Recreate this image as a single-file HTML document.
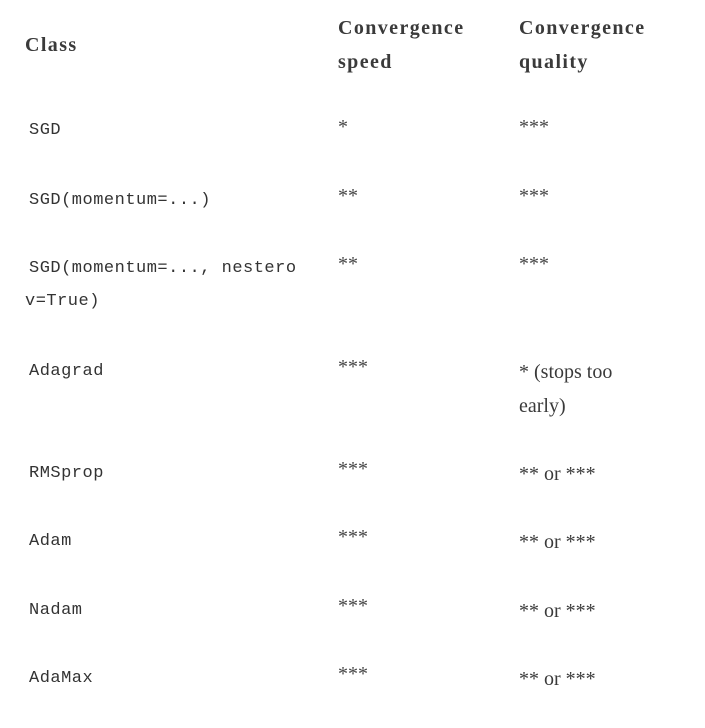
<!DOCTYPE html>
<html><head><meta charset="utf-8"><style>
html,body{margin:0;padding:0;background:#fff;width:705px;height:728px;overflow:hidden;color:#3a3a3a}
.a{position:absolute;white-space:nowrap;line-height:34px}
.h{font-family:"Liberation Serif",serif;font-weight:bold;font-size:20px;letter-spacing:1.4px}
.m{font-family:"Liberation Mono",monospace;font-size:17px;letter-spacing:0.5px;color:#333}
.s{font-family:"Liberation Serif",serif;font-size:20px}
.st{font-family:"Liberation Serif",serif;font-size:20px;color:#444}
</style></head><body>
<div class="a h" style="left:25px;top:28px">Class</div>
<div class="a h" style="left:338px;top:11px">Convergence<br>speed</div>
<div class="a h" style="left:519px;top:11px">Convergence<br>quality</div>

<div class="a m" style="left:29px;top:114px">SGD</div>
<div class="a st" style="left:338px;top:110px">*</div>
<div class="a st" style="left:519px;top:110px">***</div>

<div class="a m" style="left:29px;top:184px">SGD(momentum=...)</div>
<div class="a st" style="left:338px;top:179px">**</div>
<div class="a st" style="left:519px;top:179px">***</div>

<div class="a m" style="left:29px;top:252px">SGD(momentum=..., nestero</div>
<div class="a m" style="left:25px;top:285px">v=True)</div>
<div class="a st" style="left:338px;top:247px">**</div>
<div class="a st" style="left:519px;top:247px">***</div>

<div class="a m" style="left:29px;top:355px">Adagrad</div>
<div class="a st" style="left:338px;top:350px">***</div>
<div class="a s" style="left:519px;top:355px">* (stops too<br>early)</div>

<div class="a m" style="left:29px;top:457px">RMSprop</div>
<div class="a st" style="left:338px;top:452px">***</div>
<div class="a s" style="left:519px;top:457px">** or ***</div>

<div class="a m" style="left:29px;top:525px">Adam</div>
<div class="a st" style="left:338px;top:520px">***</div>
<div class="a s" style="left:519px;top:525px">** or ***</div>

<div class="a m" style="left:29px;top:594px">Nadam</div>
<div class="a st" style="left:338px;top:589px">***</div>
<div class="a s" style="left:519px;top:594px">** or ***</div>

<div class="a m" style="left:29px;top:662px">AdaMax</div>
<div class="a st" style="left:338px;top:657px">***</div>
<div class="a s" style="left:519px;top:662px">** or ***</div>
</body></html>
